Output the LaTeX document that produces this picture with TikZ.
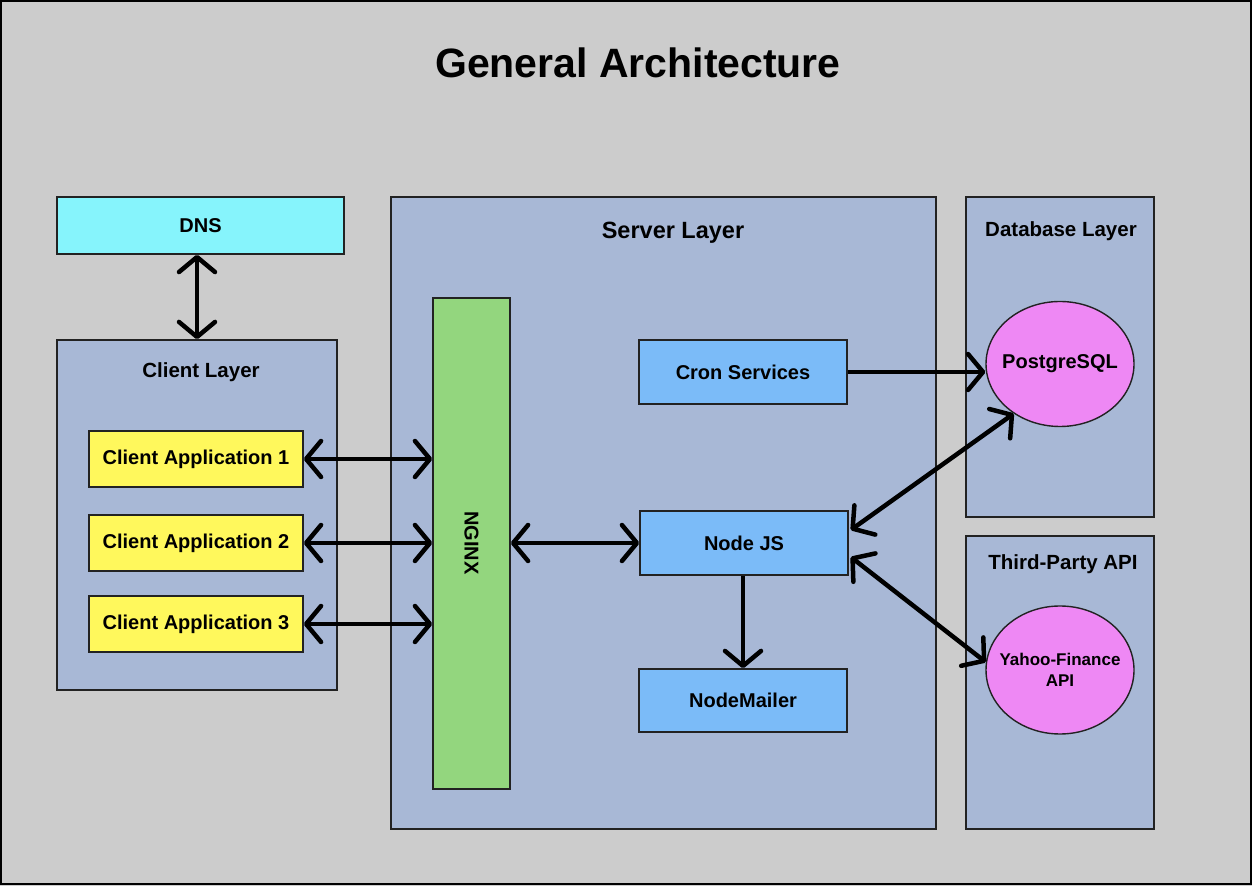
\documentclass[tikz,border=0pt]{standalone}
\usepackage{fontspec}
\setmainfont{Liberation Sans}
\usetikzlibrary{arrows.meta,shapes.geometric,calc}
\definecolor{bg}{HTML}{CCCCCC}
\definecolor{layer}{HTML}{A8B8D6}
\definecolor{dnscol}{HTML}{86F4FC}
\definecolor{yel}{HTML}{FFF85C}
\definecolor{grn}{HTML}{93D67E}
\definecolor{blu}{HTML}{7BBBF8}
\definecolor{pnk}{HTML}{EE88F4}
\definecolor{edge}{HTML}{222222}
\tikzset{
  box/.style={draw=edge, line width=1.6pt, rectangle, inner sep=0pt, font=\fontsize{20}{24}\selectfont\bfseries, text=black},
  layerbox/.style={box, fill=layer},
  lbl/.style={inner sep=0pt, font=\fontsize{20.5}{24}\selectfont\bfseries},
  oval/.style={draw=edge, line width=1.4pt, ellipse, fill=pnk, inner sep=0pt},
  tip/.style={Straight Barb[length=15pt,width=36pt,round]},
  darr/.style={line width=4.5pt, {Straight Barb[length=15pt,width=36pt,round]}-{Straight Barb[length=15pt,width=36pt,round]}},
  arr/.style={line width=4.5pt, -{Straight Barb[length=15pt,width=36pt,round]}},
}
\begin{document}
\begin{tikzpicture}[x=1pt,y=1pt]
\useasboundingbox (0,0) rectangle (1252,886);
\fill[bg] (0,0) rectangle (1252,886);
\draw[black, line width=2.5pt] (1,2) rectangle (1251,885);
% title
\node[inner sep=0pt, font=\fontsize{41}{48}\selectfont\bfseries] (title) at (638,823) {General Architecture};
% containers
\node[layerbox, minimum width=280pt, minimum height=350pt] (client) at (197,371) {};
\node[lbl] (clientlbl) at (201,514) {Client Layer};
\node[layerbox, minimum width=545pt, minimum height=632pt] (server) at (663.5,373) {};
\node[lbl, font=\fontsize{23.5}{28}\selectfont\bfseries] (serverlbl) at (673,653) {Server Layer};
\node[layerbox, minimum width=188pt, minimum height=320pt] (db) at (1060,529) {};
\node[lbl] (dblbl) at (1061,655) {Database Layer};
\node[layerbox, minimum width=188pt, minimum height=293pt] (tp) at (1060,203.5) {};
\node[lbl] (tplbl) at (1063,322) {Third-Party API};
% nodes
\node[box, fill=dnscol, minimum width=287pt, minimum height=57pt] (dns) at (200.5,660.5) {DNS};
\node[box, fill=yel, minimum width=214pt, minimum height=56pt] (ca1) at (196,427) {Client Application 1};
\node[box, fill=yel, minimum width=214pt, minimum height=56pt] (ca2) at (196,343) {Client Application 2};
\node[box, fill=yel, minimum width=214pt, minimum height=56pt] (ca3) at (196,262) {Client Application 3};
\node[box, fill=grn, minimum width=77pt, minimum height=491pt] (ngx) at (471.5,342.5) {};
\node[inner sep=0pt, rotate=-90, font=\fontsize{20}{24}\selectfont\bfseries] (ngxlbl) at (471.5,343) {NGINX};
\node[box, fill=blu, minimum width=208pt, minimum height=64pt] (cron) at (743,514) {Cron Services};
\node[box, fill=blu, minimum width=208pt, minimum height=64pt] (njs) at (744,343) {Node JS};
\node[box, fill=blu, minimum width=208pt, minimum height=63pt] (mail) at (743,185.5) {NodeMailer};
\node[oval, minimum width=148pt, minimum height=125pt] (pg) at (1060,522) {};
\node[inner sep=0pt, font=\fontsize{20}{24}\selectfont\bfseries] (pglbl) at (1060,522) {PostgreSQL};
\node[oval, minimum width=148pt, minimum height=128pt] (yf) at (1060,216) {};
\node[inner sep=0pt, align=center, font=\fontsize{17}{21}\selectfont\bfseries] (yflbl) at (1060,216) {Yahoo-Finance\\API};
% connectors
\draw[darr] (dns.south -| client.north) -- (client.north);
\draw[darr] (ca1.east) -- (ca1.east -| ngx.west);
\draw[darr] (ca2.east) -- (ca2.east -| ngx.west);
\draw[darr] (ca3.east) -- (ca3.east -| ngx.west);
\draw[darr] (ngx.east |- njs.west) -- (njs.west);
\draw[arr] (cron.east) -- (cron.east -| pg.west);
\coordinate (njsA) at ($(njs.east)+(2,13)$);
\coordinate (njsB) at ($(njs.east)+(2,-14)$);
\draw[darr] (njsA) -- (pg.227);
\draw[darr] (njsB) -- (yf.174);
\draw[arr] (njs.south -| mail.north) -- (mail.north);
\end{tikzpicture}
\end{document}
